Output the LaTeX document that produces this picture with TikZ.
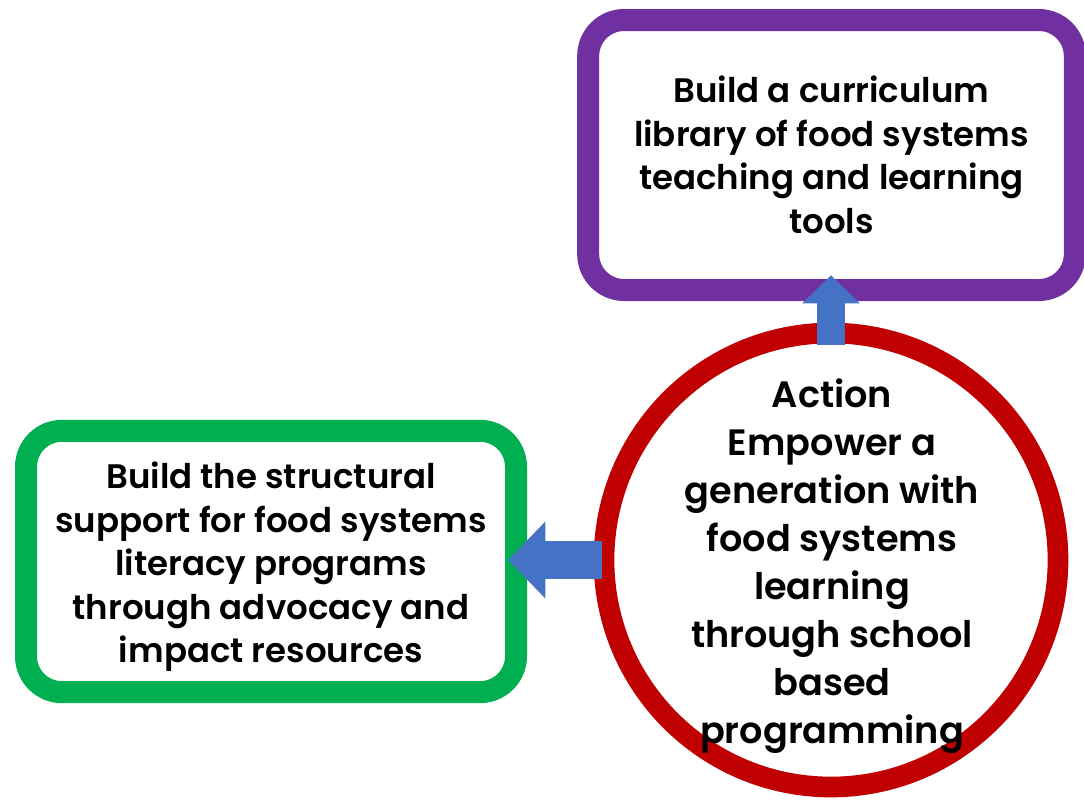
\documentclass[tikz,border=0pt]{standalone}
\usepackage{fontspec}
\newfontfamily\dfont{Poppins SemiBold}
\usetikzlibrary{arrows.meta}
\definecolor{cpurple}{HTML}{7030A0}
\definecolor{cgreen}{HTML}{00B050}
\definecolor{cred}{HTML}{C00000}
\definecolor{cblue}{HTML}{4472C4}
\begin{document}
\begin{tikzpicture}[x=0.75pt,y=-0.75pt,
  box/.style={draw, line width=16.5pt, rounded corners=27pt, fill=white,
    inner sep=0pt, outer sep=0pt},
  boxtext/.style={align=center, inner sep=0pt, text=black,
    font=\dfont\fontsize{25.5}{32.6}\selectfont},
  ring/.style={circle, draw=cred, line width=15.5pt, fill=white,
    minimum size=340.5pt, inner sep=0pt, outer sep=0pt},
  ringtext/.style={align=center, inner sep=0pt, text=black,
    font=\dfont\fontsize{27.5}{36}\selectfont},
  uparrow/.style={draw=cblue, line width=21pt, line cap=butt,
    -{Triangle[length=21pt,width=42pt]}},
  leftarrow/.style={draw=cblue, line width=28.5pt, line cap=butt,
    -{Triangle[length=28pt,width=56pt]}}
]
\useasboundingbox[fill=white] (0,0) rectangle (1084,800);

\node[box, draw=cpurple, minimum width=365pt, minimum height=202.5pt]
  (purple) at (831.5,155) {};
\node[boxtext] (ptext) at (831.5,155)
  {Build a curriculum\\library of food systems\\teaching and learning\\tools};

\node[box, draw=cgreen, minimum width=367.5pt, minimum height=196pt]
  (green) at (271,561.5) {};
\node[boxtext] (gtext) at (271,567)
  {Build the structural\\support for food systems\\literacy programs\\through advocacy and\\impact resources};

\node[ring] (circ) at (831,560) {};
\node[ringtext] (ctext) at (832,566)
  {Action\\Empower a\\generation with\\food systems\\learning\\through school\\based\\programming};

\draw[uparrow] ([yshift=-9pt]circ.north) -- ([yshift=11pt]circ.north |- purple.south);
\draw[leftarrow] ([xshift=-1.5pt]circ.west) -- ([xshift=-6pt]green.east |- circ.west);
\end{tikzpicture}
\end{document}
